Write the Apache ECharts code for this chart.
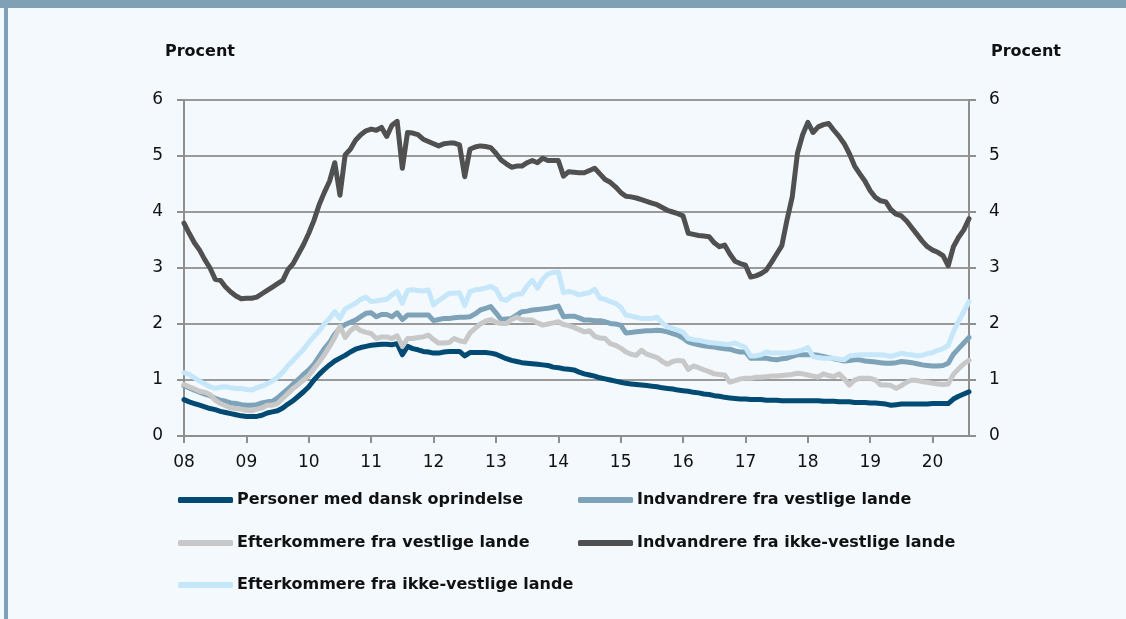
<!DOCTYPE html>
<html>
<head>
<meta charset="utf-8">
<script src="https://cdn.jsdelivr.net/npm/echarts@6/dist/echarts.min.js"></script>
<style>
html,body{margin:0;padding:0;background:#f4f9fd;}
#c{width:1126px;height:619px;}
</style>
</head>
<body>
<div id="c"></div>
<script>
// monthly, Jan 2008 - Aug 2020
const categories = [];
for (let y = 2008; y <= 2020; y++) {
  for (let m = 1; m <= 12; m++) {
    if (y === 2020 && m > 8) break;
    categories.push(y + '-' + (m < 10 ? '0' + m : m));
  }
}
const seriesNames = [
  'Personer med dansk oprindelse',
  'Indvandrere fra vestlige lande',
  'Efterkommere fra vestlige lande',
  'Indvandrere fra ikke-vestlige lande',
  'Efterkommere fra ikke-vestlige lande'
];
const dansk = [
0.65,0.61,0.58,0.55,0.52,0.49,0.47,0.44,0.42,0.40,0.38,0.36,
0.35,0.35,0.35,0.37,0.41,0.43,0.45,0.50,0.57,0.63,0.71,0.79,
0.88,1.00,1.10,1.19,1.27,1.34,1.39,1.44,1.50,1.55,1.58,1.60,
1.62,1.63,1.64,1.64,1.63,1.65,1.45,1.60,1.56,1.54,1.51,1.50,
1.48,1.48,1.50,1.51,1.51,1.51,1.43,1.49,1.49,1.49,1.49,1.48,
1.46,1.42,1.38,1.35,1.33,1.31,1.30,1.29,1.28,1.27,1.26,1.23,
1.22,1.20,1.19,1.18,1.14,1.11,1.09,1.07,1.04,1.02,1.00,0.98,
0.96,0.94,0.93,0.92,0.91,0.90,0.89,0.88,0.86,0.85,0.84,0.82,
0.81,0.80,0.78,0.77,0.75,0.74,0.72,0.71,0.69,0.68,0.67,0.66,
0.66,0.65,0.65,0.65,0.64,0.64,0.64,0.63,0.63,0.63,0.63,0.63,
0.63,0.63,0.63,0.62,0.62,0.62,0.61,0.61,0.61,0.60,0.60,0.60,
0.59,0.59,0.58,0.57,0.55,0.56,0.57,0.57,0.57,0.57,0.57,0.57,
0.58,0.58,0.58,0.58,0.66,0.71,0.75,0.79
];
const indvVest = [
0.90,0.86,0.82,0.78,0.75,0.72,0.67,0.64,0.62,0.59,0.58,0.56,
0.55,0.55,0.56,0.59,0.61,0.62,0.68,0.76,0.84,0.93,1.01,1.10,
1.18,1.28,1.42,1.56,1.67,1.82,1.93,1.99,2.03,2.07,2.13,2.19,
2.20,2.13,2.17,2.17,2.13,2.20,2.08,2.16,2.16,2.16,2.16,2.16,
2.06,2.08,2.10,2.10,2.11,2.12,2.12,2.13,2.18,2.25,2.28,2.31,
2.20,2.08,2.09,2.10,2.16,2.22,2.23,2.25,2.26,2.27,2.28,2.30,
2.32,2.13,2.14,2.14,2.11,2.07,2.07,2.06,2.06,2.04,2.01,2.00,
1.98,1.84,1.85,1.86,1.87,1.88,1.88,1.89,1.88,1.86,1.83,1.80,
1.75,1.68,1.65,1.63,1.61,1.60,1.59,1.57,1.56,1.55,1.52,1.50,
1.50,1.39,1.39,1.39,1.39,1.37,1.36,1.38,1.39,1.42,1.45,1.45,
1.45,1.45,1.44,1.42,1.40,1.38,1.36,1.34,1.35,1.36,1.36,1.34,
1.33,1.32,1.31,1.30,1.30,1.31,1.33,1.32,1.31,1.29,1.27,1.26,
1.25,1.25,1.26,1.30,1.46,1.56,1.66,1.76
];
const efterVest = [
0.92,0.88,0.84,0.80,0.78,0.74,0.64,0.58,0.54,0.50,0.49,0.48,
0.46,0.45,0.48,0.50,0.55,0.55,0.58,0.67,0.76,0.85,0.92,1.00,
1.08,1.20,1.32,1.45,1.60,1.76,1.96,1.76,1.88,1.95,1.88,1.85,
1.83,1.74,1.77,1.77,1.74,1.79,1.60,1.74,1.74,1.76,1.77,1.80,
1.72,1.66,1.66,1.67,1.74,1.70,1.68,1.84,1.92,2.00,2.05,2.08,
2.03,2.01,2.01,2.08,2.12,2.08,2.07,2.07,2.02,1.98,2.00,2.02,
2.04,1.99,1.97,1.94,1.90,1.86,1.88,1.78,1.75,1.74,1.65,1.62,
1.57,1.50,1.46,1.44,1.53,1.46,1.43,1.40,1.33,1.28,1.33,1.35,
1.34,1.19,1.25,1.22,1.18,1.15,1.11,1.10,1.09,0.96,0.99,1.02,
1.03,1.03,1.05,1.05,1.06,1.07,1.07,1.08,1.09,1.10,1.12,1.11,
1.09,1.07,1.05,1.11,1.08,1.06,1.11,1.02,0.91,1.00,1.03,1.03,
1.03,1.00,0.91,0.91,0.90,0.85,0.90,0.96,1.00,0.99,0.97,0.96,
0.94,0.93,0.92,0.93,1.10,1.20,1.29,1.35
];
const indvIkkeVest = [
3.80,3.62,3.45,3.32,3.15,3.00,2.80,2.78,2.66,2.57,2.50,2.45,
2.46,2.46,2.48,2.54,2.60,2.66,2.72,2.78,2.97,3.08,3.25,3.42,
3.62,3.85,4.13,4.35,4.55,4.88,4.30,5.02,5.12,5.28,5.38,5.45,
5.48,5.46,5.51,5.35,5.55,5.62,4.78,5.42,5.41,5.38,5.30,5.26,
5.22,5.18,5.22,5.23,5.23,5.20,4.63,5.12,5.16,5.18,5.17,5.15,
5.05,4.93,4.86,4.80,4.82,4.82,4.88,4.92,4.88,4.96,4.92,4.92,
4.92,4.64,4.72,4.71,4.70,4.70,4.74,4.78,4.68,4.58,4.53,4.45,
4.35,4.28,4.27,4.25,4.22,4.19,4.16,4.13,4.08,4.03,4.00,3.97,
3.93,3.62,3.60,3.58,3.57,3.56,3.45,3.38,3.41,3.25,3.12,3.08,
3.05,2.84,2.86,2.90,2.96,3.10,3.25,3.40,3.86,4.27,5.05,5.38,
5.60,5.42,5.52,5.56,5.58,5.46,5.35,5.22,5.04,4.82,4.68,4.55,
4.38,4.26,4.20,4.18,4.04,3.96,3.93,3.84,3.72,3.60,3.48,3.38,
3.32,3.28,3.22,3.04,3.38,3.55,3.68,3.88
];
const efterIkkeVest = [
1.13,1.10,1.04,0.98,0.93,0.88,0.85,0.87,0.88,0.86,0.85,0.85,
0.83,0.82,0.86,0.89,0.93,0.98,1.05,1.14,1.26,1.35,1.45,1.55,
1.67,1.78,1.88,2.00,2.10,2.22,2.10,2.27,2.32,2.37,2.44,2.48,
2.40,2.41,2.43,2.44,2.52,2.58,2.37,2.60,2.61,2.60,2.59,2.61,
2.34,2.42,2.48,2.55,2.55,2.56,2.33,2.58,2.61,2.62,2.64,2.67,
2.62,2.45,2.42,2.50,2.53,2.54,2.68,2.78,2.64,2.80,2.89,2.92,
2.93,2.56,2.58,2.56,2.52,2.54,2.56,2.62,2.46,2.44,2.40,2.37,
2.30,2.16,2.14,2.12,2.10,2.10,2.10,2.12,2.02,1.95,1.92,1.89,
1.85,1.74,1.72,1.71,1.69,1.67,1.66,1.65,1.64,1.64,1.66,1.62,
1.58,1.43,1.43,1.45,1.50,1.48,1.48,1.48,1.48,1.49,1.51,1.54,
1.58,1.42,1.40,1.39,1.39,1.39,1.37,1.36,1.43,1.44,1.45,1.45,
1.45,1.45,1.45,1.44,1.42,1.45,1.48,1.46,1.45,1.43,1.44,1.47,
1.49,1.53,1.56,1.62,1.86,2.05,2.22,2.40
];
const yTicks = [0, 1, 2, 3, 4, 5, 6];
const colors = ['#004a74', '#7ea3b9', '#c8c8c8', '#505050', '#c6e7f9'];
const values = [dansk, indvVest, efterVest, indvIkkeVest, efterIkkeVest];

const FONT = '"DejaVu Sans", sans-serif';
const axisGray = '#8f8f8f';

const chart = echarts.init(document.getElementById('c'), null, {renderer: 'canvas'});

const legendPos = [
  {left: 178, top: 490},
  {left: 578, top: 490},
  {left: 178, top: 533},
  {left: 578, top: 533},
  {left: 178, top: 575}
];

const option = {
  backgroundColor: '#f4f9fd',
  animation: false,
  grid: {left: 184, right: 157, top: 100, bottom: 183, containLabel: false},
  legend: seriesNames.map((n, i) => ({
    show: true,
    left: legendPos[i].left,
    top: legendPos[i].top,
    data: [{name: n, icon: 'roundRect'}],
    itemWidth: 55,
    itemHeight: 6,
    padding: 0,
    selectedMode: false,
    textStyle: {fontFamily: FONT, fontWeight: 'bold', fontSize: 16, lineHeight: 20, color: '#111', padding: [0, 0, 0, -1]}
  })),
  xAxis: {
    type: 'category',
    data: categories,
    boundaryGap: false,
    axisLine: {show: true, lineStyle: {color: axisGray, width: 2}},
    axisTick: {show: true, length: 7, lineStyle: {color: axisGray, width: 2},
      interval: (idx) => idx % 12 === 0},
    axisLabel: {
      interval: (idx) => idx % 12 === 0,
      formatter: (v) => v.slice(2, 4),
      fontFamily: FONT, fontSize: 17, color: '#111', margin: 18
    },
    splitLine: {show: false}
  },
  yAxis: [
    {
      type: 'value', min: 0, max: 6, interval: 1, position: 'left',
      axisLine: {show: true, lineStyle: {color: axisGray, width: 2}},
      axisTick: {show: true, length: 7, lineStyle: {color: axisGray, width: 2}},
      axisLabel: {fontFamily: FONT, fontSize: 17, color: '#111', margin: 21,
        formatter: (v) => yTicks.includes(v) ? String(v) : ''},
      splitLine: {show: true, lineStyle: {color: '#9a9a9a', width: 2}}
    },
    {
      type: 'value', min: 0, max: 6, interval: 1, position: 'right',
      axisLine: {show: true, lineStyle: {color: axisGray, width: 2}},
      axisTick: {show: true, length: 7, lineStyle: {color: axisGray, width: 2}},
      axisLabel: {fontFamily: FONT, fontSize: 17, color: '#111', margin: 20,
        formatter: (v) => yTicks.includes(v) ? String(v) : ''},
      splitLine: {show: false}
    }
  ],
  series: seriesNames.map((n, i) => ({
    name: n,
    type: 'line',
    data: values[i],
    yAxisIndex: 0,
    symbol: 'none',
    showSymbol: false,
    color: colors[i],
    lineStyle: {width: 5, color: colors[i], cap: 'round', join: 'round'},
    itemStyle: {color: colors[i]},
    z: 2 + i
  })),
  graphic: [
    {type: 'rect', shape: {x: 0, y: 0, width: 1126, height: 8}, style: {fill: '#7fa0b5'}, z: 100},
    {type: 'rect', shape: {x: 4, y: 0, width: 4, height: 619}, style: {fill: '#7fa0b5'}, z: 100},
    {type: 'text', left: 165, top: 44, style: {text: 'Procent', fontFamily: FONT, fontWeight: 'bold', fontSize: 16, fill: '#111'}},
    {type: 'text', left: 991, top: 44, style: {text: 'Procent', fontFamily: FONT, fontWeight: 'bold', fontSize: 16, fill: '#111'}}
  ]
};
chart.setOption(option);
</script>
</body>
</html>
